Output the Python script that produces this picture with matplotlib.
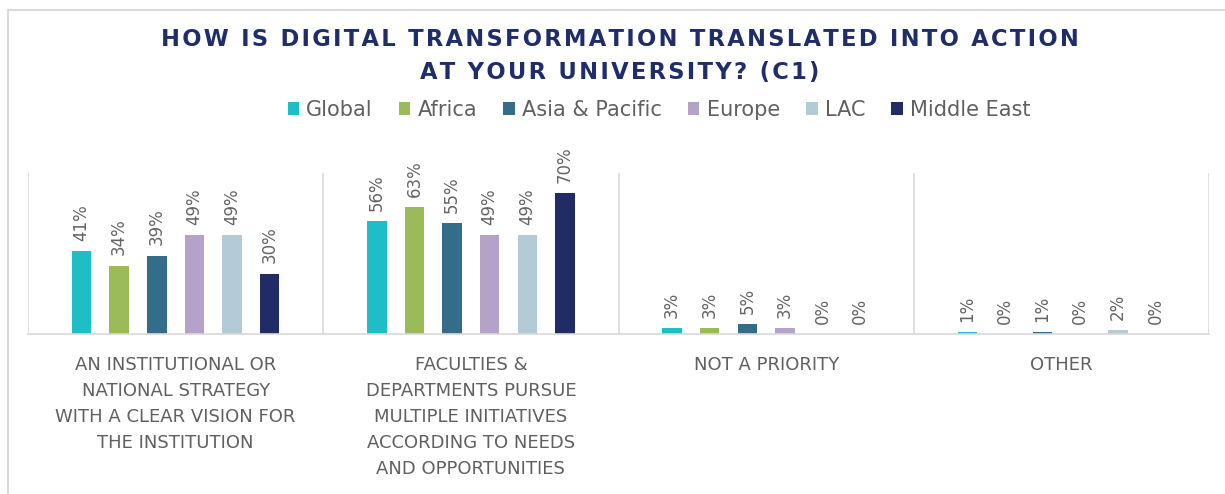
import matplotlib
matplotlib.use("Agg")
import matplotlib.pyplot as plt
from matplotlib.lines import Line2D
from matplotlib.patches import Patch
import numpy as np

plt.rcParams['font.family'] = ['DejaVu Sans']

categories = [
    "AN INSTITUTIONAL OR\nNATIONAL STRATEGY\nWITH A CLEAR VISION FOR\nTHE INSTITUTION",
    "FACULTIES &\nDEPARTMENTS PURSUE\nMULTIPLE INITIATIVES\nACCORDING TO NEEDS\nAND OPPORTUNITIES",
    "NOT A PRIORITY",
    "OTHER",
]
series_names = ["Global", "Africa", "Asia & Pacific", "Europe", "LAC", "Middle East"]
global_vals = [41, 56, 3, 1]
africa_vals = [34, 63, 3, 0]
asia_vals = [39, 55, 5, 1]
europe_vals = [49, 49, 3, 0]
lac_vals = [49, 49, 0, 2]
me_vals = [30, 70, 0, 0]
series_vals = [global_vals, africa_vals, asia_vals, europe_vals, lac_vals, me_vals]
colors = ["#1FBDC6", "#9BBB59", "#336D8A", "#B4A2C9", "#B3CBD7", "#202C63"]

title_lines = ["HOW IS DIGITAL TRANSFORMATION TRANSLATED INTO ACTION",
               "AT YOUR UNIVERSITY? (C1)"]

def spaced(s):
    return "\u200a".join(s)

W, H = 1225, 494
fig = plt.figure(figsize=(W / 100, H / 100), dpi=100)

# frame lines
fig.add_artist(Line2D([8 / W, 8 / W], [0, 1 - 10 / H], color="#DADADA", lw=1.5))
fig.add_artist(Line2D([8 / W, 1.01], [1 - 10 / H, 1 - 10 / H], color="#DADADA", lw=1.5))

ax = fig.add_axes([28 / W, 1 - 334 / H, (1209 - 28) / W, (334 - 173) / H])
x = np.arange(len(categories))
spacing = 0.1275
width = 0.066
n = len(series_names)
for i, (name, vals, c) in enumerate(zip(series_names, series_vals, colors)):
    xs = x + (i - (n - 1) / 2) * spacing
    ax.bar(xs, vals, width=width, color=c, label=name, zorder=2)
    for xi, v in zip(xs, vals):
        ax.annotate(f"{v}%", (xi, v), xytext=(0, 7.5), textcoords="offset points",
                    rotation=90, ha="center", va="bottom", fontsize=12,
                    color="#646464")

ax.set_xlim(-0.5, 3.5)
ax.set_ylim(0, 80)
ax.set_yticks([])
for s in ["top", "left", "right"]:
    ax.spines[s].set_visible(False)
ax.spines["bottom"].set_color("#D9D9D9")
ax.spines["bottom"].set_linewidth(1.2)
for b in np.arange(-0.5, 4.0, 1.0):
    ax.axvline(b, color="#D9D9D9", lw=1.2, zorder=1)

ax.set_xticks(x)
ax.set_xticklabels(categories, fontsize=13, color="#606060", linespacing=1.58)
ax.tick_params(axis="x", length=0, pad=15.5)

fig.text(0.506, 1 - 40 / H, spaced(title_lines[0]), ha="center", va="center", fontsize=16.3,
         color="#1F2D6B", fontweight="bold")
fig.text(0.506, 1 - 72 / H, spaced(title_lines[1]), ha="center", va="center", fontsize=16.3,
         color="#1F2D6B", fontweight="bold")

handles = [Patch(facecolor=c, edgecolor="none") for c in colors]
fig.legend(handles, series_names, loc="center", bbox_to_anchor=(0.538, 1 - 110 / H),
           ncol=6, frameon=False, fontsize=15, handlelength=0.55, handleheight=0.55,
           handletextpad=0.35, columnspacing=1.25, labelcolor="#606060")

fig.savefig("out.png", dpi=100)
